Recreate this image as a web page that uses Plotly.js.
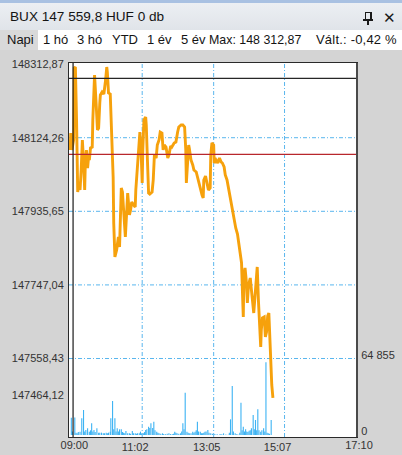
<!DOCTYPE html>
<html>
<head>
<meta charset="utf-8">
<script src="https://cdn.plot.ly/plotly-3.0.1.min.js"></script>
<style>
  html,body{margin:0;padding:0;}
  body{width:402px;height:455px;overflow:hidden;background:#d4d4d4;font-family:"Liberation Sans",Arial,sans-serif;position:relative;}
  #chart{position:absolute;left:0;top:0;width:402px;height:455px;}
  #titlebar{position:absolute;left:0;top:0;width:402px;height:30px;box-sizing:border-box;border-top:3px solid #a9c1e2;background:linear-gradient(#eceff3,#e0e4e9);}
  #titlebar .t{position:absolute;left:10px;top:6px;font-size:13.6px;color:#141414;white-space:nowrap;}
  #toolbar{position:absolute;left:0;top:30px;width:402px;height:20px;background:#ffffff;}
  #toolbar .it{position:absolute;top:2px;font-size:13px;color:#141414;white-space:nowrap;line-height:16px;}
  #toolbar .sel{position:absolute;left:0;top:0;width:38px;height:20px;background:#d9d9d9;}
  .pin{position:absolute;left:363px;top:9px;width:10px;height:14px;}
  .close{position:absolute;left:383px;top:6px;font-size:15px;color:#1a1a1a;font-family:"DejaVu Sans",sans-serif;}
</style>
</head>
<body>
<div id="chart"></div>
<div id="titlebar">
  <div class="t">BUX 147 559,8 HUF 0 db</div>
  <div class="pin">
    <div style="position:absolute;left:2px;top:0;width:4px;height:6px;border:1px solid #1a1a1a;border-right-width:2px;"></div>
    <div style="position:absolute;left:0;top:7px;width:10px;height:1.5px;background:#1a1a1a;"></div>
    <div style="position:absolute;left:4px;top:8px;width:1.5px;height:5px;background:#1a1a1a;"></div>
  </div>
  <div class="close">✕</div>
</div>
<div id="toolbar">
  <div class="sel"></div>
  <div class="it" style="left:7px;">Napi</div>
  <div class="it" style="left:43px;">1 hó</div>
  <div class="it" style="left:77px;">3 hó</div>
  <div class="it" style="left:112px;">YTD</div>
  <div class="it" style="left:147px;">1 év</div>
  <div class="it" style="left:181px;">5 év</div>
  <div class="it" style="left:209px;font-size:12.4px;">Max: 148 312,87</div>
  <div class="it" style="left:316px;letter-spacing:0.2px;">Vált.: -0,42 %</div>
</div>
<script>
// ---- data (minutes after 09:00, index value) ----
const times = [
  -2,-1,1,4,5,7,9,10,11,13,
  15,17,19,21,23,24,26,28,30,31,
  33,36,37,40,42,43,45,47,49,50,
  53,56,59,61,62,64,67,68,70,72,
  73,75,78,80,81,83,85,86,88,90,
  92,93,95,97,98,100,102,104,107,110,
  111,114,116,118,120,122,123,125,128,129,
  131,133,135,139,141,143,146,148,151,153,
  156,158,160,163,166,168,171,173,177,180,
  183,185,189,192,195,197,198,200,202,203,
  206,209,211,215,217,220,222,225,227,228,
  231,234,236,239,240,242,245,246,249,252,
  255,258,260,263,265,268,271,273,276,278,
  281,283,286,289,291,293,295,296,297,299,
  301,303,305,308,310,313,314,317,319,320,
  322,324,326,327,329,332,334,336,338,340,
  342,344,345,347
];
const prices = [
  148092.7,148136.3,148092.7,148118.4,148302.9,148305.4,148169.6,147990.2,147985.1,148008.2,
  147990.2,148041.5,148118.4,148067.1,147990.2,148054.3,148092.7,148046.6,148079.9,148067.1,
  148097.9,148100.4,148169.6,148284.9,148246.5,148202.9,148144.0,148149.1,148213.2,148233.7,
  148241.4,148236.2,148272.1,148305.4,148292.6,148238.8,148236.2,148195.2,148092.7,148023.5,
  147905.7,147818.5,147836.5,147862.1,147869.8,147844.2,147926.2,147995.4,147985.1,147926.2,
  147887.7,147869.8,147926.2,147982.5,147964.6,147926.2,147939.0,147959.5,147951.8,147946.7,
  147990.2,148067.1,148105.6,148138.9,148092.7,148008.2,148092.7,148169.6,148177.3,148156.8,
  148067.1,147982.5,147980.0,147985.1,148015.9,148079.9,148072.2,148105.6,148118.4,148138.9,
  148136.3,148092.7,148105.6,148100.4,148072.2,148079.9,148103.0,148100.4,148110.7,148113.2,
  148138.9,148151.7,148156.8,148156.8,148151.7,148092.7,148008.2,148054.3,148105.6,148097.9,
  148067.1,148054.3,148041.5,148036.4,148023.5,148008.2,147990.2,147977.4,147969.7,148015.9,
  148026.1,148003.1,147990.2,147995.4,148079.9,148110.7,148105.6,148059.4,148067.1,148059.4,
  148072.2,148062.0,148059.4,148049.2,148028.7,148015.9,147990.2,147972.3,147951.8,147931.3,
  147913.4,147892.9,147877.5,147849.3,147831.4,147803.2,147708.4,147664.8,147772.5,147790.4,
  147759.6,147700.7,147746.8,147764.8,147734.0,147682.8,147675.1,147734.0,147790.4,147793.0,
  147708.4,147631.5,147587.9,147631.5,147662.3,147664.8,147613.6,147626.4,147667.4,147675.1,
  147580.3,147508.5,147490.6,147457.3
];
const volTimes = [
  0,2,6,8,10,12,15,18,21,23,
  25,28,31,33,35,37,39,41,44,47,
  49,52,55,57,60,62,64,67,68,71,
  73,75,77,79,81,83,86,88,90,92,
  94,97,100,102,105,107,110,112,114,117,
  119,121,124,126,128,130,133,135,137,140,
  142,144,147,149,151,154,157,159,162,165,
  168,171,174,176,178,180,182,185,188,190,
  192,194,196,199,201,203,206,209,211,213,
  215,217,219,222,224,226,228,230,232,235,
  237,240,243,247,251,256,259,262,266,270,
  272,274,277,279,282,285,288,290,292,294,
  296,298,300,302,304,306,308,310,313,315,
  317,319,321,323,326,328,331,333,335,337,
  339,341,344
];
const volumes = [
  14850,3000,15000,2000,1430,2500,2860,14280,21420,3000,
  4280,5710,2860,4000,10000,3000,4280,2500,5710,2000,
  2000,2000,1430,1430,2000,1500,2000,2860,14280,29130,
  5000,14280,3000,5710,3000,4860,4860,2500,2000,1500,
  3430,1500,1430,1000,3430,1500,1430,1000,1430,1500,
  2860,1200,1430,2500,4280,5000,7140,6000,10000,6000,
  11420,4000,2860,2000,1430,1000,1430,800,570,1000,
  1430,800,600,1000,2860,2000,1430,1000,1430,3000,
  10000,5000,36270,2860,2000,1430,1500,2860,2000,2860,
  4000,11420,3000,2860,1500,1430,2000,2860,3000,4280,
  2000,1430,1000,860,700,860,600,1430,500,300,
  2000,13420,41980,3000,1430,800,300,2000,27700,4000,
  7140,3000,4860,3000,2500,3710,4000,5710,17130,5000,
  12850,4000,21990,4000,2860,4000,5710,3000,62280,2000,
  1430,1000,12850
];
// ---- axis labels / reference levels ----
const yTickVals = [148312.87,148124.26,147935.65,147747.04,147558.43,147464.12];
const yTickText = ['148312,87','148124,26','147935,65','147747,04','147558,43','147464,12'];
const gridPrices = [148124.26,147935.65,147747.04,147558.43];
const xEndTicks = [0,490];
const xEndText = ['09:00','17:10'];
const xMidTicks = [122,245,367];
const xMidText = ['11:02','13:05','15:07'];
const volTickVals = [0,64855];
const volTickText = ['0','64 855'];
const maxLevel = 148276.5;
const prevClose = 148081.7;
const openMarkerTime = 3;

const gridColor = '#59b6ee';
const gridDash = '4px,2px,1px,2px';
const tickFont = {family:'"Liberation Sans", Arial, sans-serif', size:11, color:'#333333'};

const traces = [
  {type:'scatter', mode:'lines', x:times, y:prices, xaxis:'x', yaxis:'y',
   line:{color:'#f6a10c', width:2.9}, hoverinfo:'skip'},
  {type:'bar', x:volTimes, y:volumes, xaxis:'x2', yaxis:'y2', width:1.9,
   marker:{color:'#3db3f3', line:{width:0}}, hoverinfo:'skip'}
];

const shapes = [];
gridPrices.forEach(p => shapes.push({type:'line', xref:'paper', x0:0, x1:1, yref:'y', y0:p, y1:p,
  line:{color:gridColor, width:1, dash:gridDash}, layer:'below'}));
xMidTicks.forEach(t => shapes.push({type:'line', xref:'x', x0:t, x1:t, yref:'paper', y0:0, y1:1,
  line:{color:gridColor, width:1, dash:gridDash}, layer:'below'}));
shapes.push(
  {type:'line', xref:'paper', x0:0, x1:1, yref:'y', y0:maxLevel, y1:maxLevel,
   line:{color:'#262626', width:1.2}, layer:'above'},
  {type:'line', xref:'paper', x0:0, x1:1, yref:'y', y0:prevClose, y1:prevClose,
   line:{color:'#b8272c', width:1.2}, layer:'above'},
  {type:'line', xref:'x', x0:openMarkerTime, x1:openMarkerTime, yref:'paper', y0:0, y1:1,
   line:{color:'#1a1a1a', width:1.2}, layer:'above'}
);

const layout = {
  width:402, height:455,
  margin:{l:69, r:46, t:63, b:18, pad:0},
  paper_bgcolor:'#d4d4d4', plot_bgcolor:'#ffffff',
  showlegend:false,
  font:tickFont,
  xaxis:{range:[-4,490], tickvals:xMidTicks, ticktext:xMidText, showgrid:false, zeroline:false,
         showline:true, mirror:true, linecolor:'#2a2a2a', linewidth:1, ticks:'', ticklabelshift:-7,
         tickfont:tickFont, fixedrange:true},
  xaxis2:{overlaying:'x', matches:'x', anchor:'y2', side:'bottom', tickvals:xEndTicks, ticktext:xEndText,
          showgrid:false, zeroline:false, showline:false, ticks:'', ticklabelshift:3, tickfont:tickFont},
  yaxis:{range:[147357.3,148315.7], tickvals:yTickVals, ticktext:yTickText, showgrid:false,
         zeroline:false, showline:true, linecolor:'#2a2a2a', linewidth:1, ticks:'outside', ticklen:2,
         tickcolor:'rgba(0,0,0,0)', tickfont:tickFont, fixedrange:true},
  yaxis2:{overlaying:'y', side:'right', anchor:'x2', range:[-1713,318440], tickvals:volTickVals,
          ticktext:volTickText, showgrid:false, zeroline:false, showline:true, linecolor:'#4a4a4a',
          linewidth:2, ticks:'outside', ticklen:1, tickcolor:'rgba(0,0,0,0)', tickfont:tickFont,
          ticklabelshift:-4},
  shapes:shapes
};

Plotly.newPlot('chart', traces, layout, {staticPlot:true, displayModeBar:false});
</script>
</body>
</html>
